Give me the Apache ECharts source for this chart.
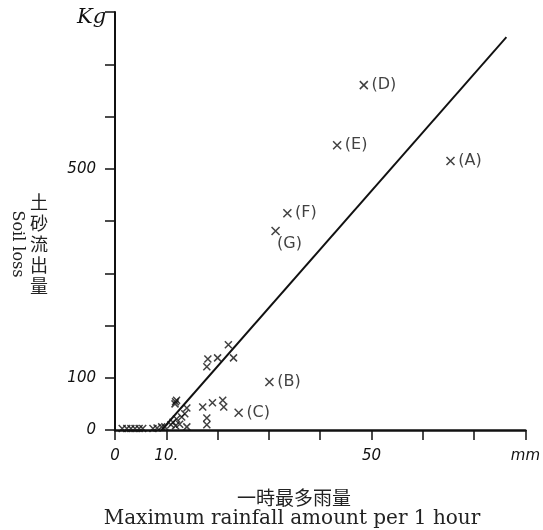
<!DOCTYPE html>
<html><head><meta charset="utf-8">
<script src="https://cdn.jsdelivr.net/npm/echarts@6/dist/echarts.min.js"></script>
<style>html,body{margin:0;padding:0;background:#fff}#c{width:543px;height:530px}</style>
</head><body><div id="c"></div>
<script>
// unlabeled observations (mm, kg)
const clusterX = [18.1,17.9,20.0,22.1,23.1,11.8,12.0,11.7,17.1,19.0,21.0,21.2,17.9,17.9,14.0,13.6,13.0,12.0,11.3,10.9,11.8,14.0,9.7,9.1,12.6,
                  1.4,2.3,3.1,3.9,4.7,5.4,7.4,8.2];
const clusterY = [136,121,138,163,138,54,57,50,44,52,57,44,23,10,42,31,25,21,15,10,8,6,6,6,11,
                  3,3,3,3,3,3,3,4];
// labeled observations
const labeledNames = ['(A)','(B)','(C)','(D)','(E)','(F)','(G)'];
const labeledX = [65.4,30.1,24.1,48.5,43.3,33.6,31.3];
const labeledY = [515,92,33,660,545,415,381];
// regression line end points
const lineX = [9.1, 76.3];
const lineY = [0, 752];
// tick labels
const xTickLabels = {0:'0',10:'10.',50:'50',80:'mm'};
const yTickLabels = {0:'0',100:'100',500:'500'};

const cross = 'path://M0,0L10,10M10,0L0,10';
const markStyle = {color:'transparent', borderColor:'#111', borderWidth:1.5};

const chart = echarts.init(document.getElementById('c'), null, {renderer:'canvas'});
const labeledData = labeledX.map((x,i)=>{
  const d = {value:[x, labeledY[i]], name:labeledNames[i]};
  if (labeledNames[i]==='(G)') d.label = {position:'bottom', offset:[14,-3]};
  return d;
});
chart.setOption({
  animation:false,
  grid:{left:115, right:16, top:12, bottom:100, containLabel:false},
  xAxis:{type:'value', min:0, max:80, interval:10,
    axisLine:{show:true, onZero:false, lineStyle:{color:'#111', width:2.5}},
    axisTick:{show:true, inside:false, length:10, lineStyle:{color:'#111', width:1.5}},
    splitLine:{show:false},
    axisLabel:{margin:19, color:'#111', fontSize:15, fontStyle:'italic', fontFamily:'DejaVu Sans',
      formatter:v=> (xTickLabels[v]!==undefined ? xTickLabels[v] : ''), showMaxLabel:true}
  },
  yAxis:{type:'value', min:0, max:800, interval:100,
    axisLine:{show:true, onZero:false, lineStyle:{color:'#111', width:2}},
    axisTick:{show:true, inside:false, length:10, lineStyle:{color:'#111', width:1.5}},
    splitLine:{show:false},
    axisLabel:{margin:19, color:'#111', fontSize:15, fontStyle:'italic', fontFamily:'DejaVu Sans',
      formatter:v=> (yTickLabels[v]!==undefined ? yTickLabels[v] : ''), showMaxLabel:true}
  },
  series:[
    {type:'line', data:lineX.map((x,i)=>[x,lineY[i]]), showSymbol:false, symbol:'none',
      lineStyle:{color:'#111', width:1.9}, silent:true, z:1},
    {type:'scatter', data:clusterX.map((x,i)=>[x,clusterY[i]]), symbol:cross, symbolSize:7,
      itemStyle:markStyle, z:3},
    {type:'scatter', data:labeledData, symbol:cross, symbolSize:8, itemStyle:markStyle, z:3,
      label:{show:true, position:'right', distance:3, formatter:p=>p.name, color:'#111',
        fontSize:16, fontFamily:'DejaVu Sans'}}
  ],
  graphic:[
    {type:'text', left:77, top:7, style:{text:'Kg', font:'italic 21px "DejaVu Serif"', fill:'#111'}},
    {type:'text', x:39, y:192, style:{text:'土\n砂\n流\n出\n量', font:'18px "Noto Sans CJK JP"', lineHeight:21, fill:'#222', align:'center', verticalAlign:'top'}},
    {type:'text', x:17, y:244, rotation:-Math.PI/2, style:{text:'Soil loss', font:'16px "DejaVu Serif"', fill:'#222', align:'center', verticalAlign:'middle'}},
    {type:'text', x:294, y:498, style:{text:'一時最多雨量', font:'19px "Noto Sans CJK JP"', fill:'#222', align:'center', verticalAlign:'middle'}},
    {type:'text', x:292, y:519, style:{text:'Maximum rainfall amount per 1 hour', font:'20px "DejaVu Serif"', fill:'#222', align:'center', verticalAlign:'middle'}}
  ]
});
</script></body></html>
